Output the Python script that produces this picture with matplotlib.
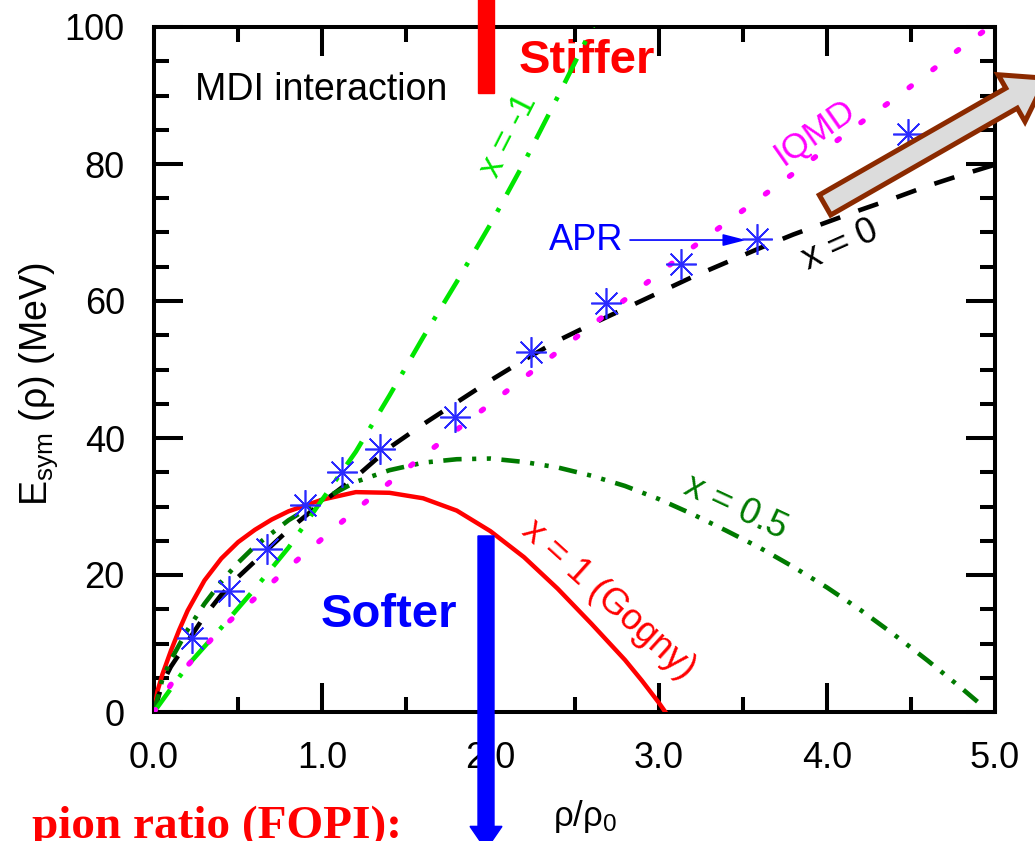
import matplotlib
matplotlib.use('Agg')
import matplotlib.pyplot as plt
from matplotlib.patches import Polygon, Rectangle, FancyArrow
from matplotlib.ticker import MultipleLocator, FormatStrFormatter
import numpy as np

plt.rcParams['font.family'] = ['Liberation Sans', 'DejaVu Sans']
plt.rcParams['mathtext.fontset'] = 'custom'
plt.rcParams['mathtext.rm'] = 'Liberation Sans'
plt.rcParams['mathtext.default'] = 'regular'

W, H = 1035, 841

# E_sym (MeV) vs rho/rho0
rho_x1 = [0, 0.02, 0.05, 0.1, 0.15, 0.2, 0.3, 0.4, 0.5, 0.6, 0.7, 0.8, 1.0,
          1.2, 1.4, 1.6, 1.8, 2.0, 2.2, 2.4, 2.6, 2.8, 2.9, 3.0, 3.04]
esym_x1 = [0, 3.0, 5.5, 8.9, 12.0, 14.8, 19.2, 22.4, 24.8, 26.6, 28.1, 29.3,
           31.0, 32.1, 32.0, 31.2, 29.4, 26.4, 22.6, 18.0, 12.9, 7.6, 4.6,
           1.4, 0]

rho_x0 = [0, 0.05, 0.1, 0.2, 0.3, 0.4, 0.5, 0.6, 0.8, 1.0, 1.2, 1.4, 1.6,
          1.8, 2.0, 2.2, 2.4, 2.6, 2.8, 3.0, 3.2, 3.4, 3.6, 3.8, 4.0, 4.2,
          4.4, 4.6, 4.8, 5.0]
esym_x0 = [0, 4.2, 6.6, 10.3, 14.0, 17.1, 19.7, 22.0, 26.6, 30.6, 34.3,
           38.6, 42.0, 45.2, 48.4, 51.4, 54.2, 56.6, 58.9, 61.2, 63.5, 65.6,
           67.7, 69.7, 71.5, 73.3, 75.0, 76.8, 78.4, 79.9]

rho_x05 = [0, 0.05, 0.1, 0.2, 0.3, 0.4, 0.5, 0.6, 0.8, 1.0, 1.2, 1.4, 1.6,
           1.8, 2.0, 2.2, 2.4, 2.6, 2.8, 3.0, 3.2, 3.4, 3.6, 3.8, 4.0, 4.2,
           4.4, 4.6, 4.8, 4.92]
esym_x05 = [0, 4.8, 7.6, 12.0, 15.8, 19.0, 21.8, 24.2, 28.0, 31.0, 33.6,
            35.3, 36.4, 36.9, 37.0, 36.5, 35.7, 34.5, 33.0, 31.1, 28.9,
            26.5, 24.0, 21.2, 18.2, 14.9, 11.3, 7.5, 3.5, 1.0]

rho_xm1 = [0, 0.2, 0.4, 0.6, 0.8, 1.0, 1.2, 1.4, 1.6, 1.8, 2.0, 2.2, 2.4,
           2.6, 2.62]
esym_xm1 = [0, 6.8, 12.3, 18.0, 24.0, 31.0, 38.0, 46.2, 54.7, 62.8, 71.2,
            80.2, 89.8, 99.6, 100.6]

rho_iqmd = [0, 0.1, 0.2, 0.4, 0.6, 0.8, 1.0, 1.2, 1.4, 1.6, 1.8, 2.0, 2.2,
            2.4, 2.6, 2.8, 3.0, 3.2, 3.4, 3.6, 3.8, 4.0, 4.2, 4.4, 4.6, 4.8,
            5.0]
esym_iqmd = [0, 4.0, 6.8, 12.2, 16.6, 21.1, 25.3, 29.5, 33.5, 37.4, 41.2,
             45.0, 48.8, 52.6, 56.4, 60.2, 64.0, 67.8, 71.4, 75.0, 78.6,
             82.3, 86.0, 89.5, 93.2, 97.0, 100.6]

rho_apr = [0.224, 0.448, 0.672, 0.896, 1.12, 1.344, 1.792, 2.24, 2.688,
           3.136, 3.584, 4.48]
esym_apr = [10.8, 17.6, 23.8, 30.2, 35.0, 38.4, 43.0, 52.6, 59.7, 65.4,
            69.1, 84.4]

xticks = [0, 1, 2, 3, 4, 5]
yticks = [0, 20, 40, 60, 80, 100]

fig = plt.figure(figsize=(W / 100, H / 100), dpi=100)
ax = fig.add_axes([154 / W, 1 - 712 / H, (995 - 154) / W, (712 - 27) / H])

ax.plot(rho_x1, esym_x1, color='#ff0000', lw=3.2, zorder=3)
ax.plot(rho_x0, esym_x0, color='black', lw=3.3, ls=(0, (4.6, 4.2)), zorder=3)
ax.plot(rho_x05, esym_x05, color='#007a00', lw=3.3,
        ls=(0, (4.0, 2.3, 0.9, 2.3, 0.9, 2.3)), zorder=3)
ax.plot(rho_xm1, esym_xm1, color='#00e600', lw=3.3,
        ls=(0, (6.0, 3.4, 0.9, 3.4)), zorder=3)
ax.plot(rho_iqmd, esym_iqmd, color='#ff00ff', lw=3.9,
        ls=(0, (0.5, 5.0)), dash_capstyle='round', zorder=3)
ax.plot(rho_apr, esym_apr, ls='none', marker=(8, 2, 0), ms=22, mew=1.2,
        color='#2a2aff', zorder=4)

ax.set_xlim(0, 5)
ax.set_ylim(0, 100)
ax.set_xticks(xticks)
ax.set_yticks(yticks)
ax.xaxis.set_major_formatter(FormatStrFormatter('%.1f'))
ax.xaxis.set_minor_locator(MultipleLocator(0.5))
ax.yaxis.set_minor_locator(MultipleLocator(5))
ax.tick_params(which='both', direction='in', top=True, right=True, width=2.9,
               labelsize=26, pad=21)
ax.tick_params(which='major', length=21)
ax.tick_params(which='minor', length=11)
for sp in ax.spines.values():
    sp.set_linewidth(2.9)

ax.set_xlabel(r'ρ/ρ$_0$', fontsize=25)
ax.xaxis.set_label_coords(0.5125, -0.125)
ax.set_ylabel(r'E$_{sym}$ (ρ) (MeV)', fontsize=27)
ax.yaxis.set_label_coords(-0.112, 0.479)

# labels
ax.text(0.244, 89.3, 'MDI interaction', fontsize=27, ha='left', va='baseline')
ax.text(2.167, 93.3, 'Stiffer', fontsize=34, weight='bold', color='#ff0000',
        ha='left', va='baseline', zorder=1)
ax.text(0.988, 12.4, 'Softer', fontsize=34, weight='bold', color='#0000ff',
        ha='left', va='baseline', zorder=1)
ax.text(2.345, 67.4, 'APR', fontsize=26, color='#0000ff', ha='left',
        va='baseline')
ax.annotate('', xy=(3.52, 68.9), xytext=(2.83, 68.9),
            arrowprops=dict(arrowstyle='-|>,head_length=0.7,head_width=0.18',
                            color='#0000ff', lw=1.2, mutation_scale=20,
                            shrinkA=0, shrinkB=0))
ax.text(3.93, 84.7, 'IQMD', fontsize=25, color='#ff00ff', rotation=35,
        rotation_mode='anchor', ha='center', va='center')
ax.text(4.083, 68.2, 'x = 0', fontsize=26, color='black', rotation=24,
        rotation_mode='anchor', ha='center', va='center')
ax.text(2.107, 84.2, 'x = -1', fontsize=25, color='#00e600', rotation=63,
        rotation_mode='anchor', ha='center', va='center')
ax.text(3.458, 29.8, 'x = 0.5', fontsize=26, color='#007a00', rotation=-25,
        rotation_mode='anchor', ha='center', va='center')
ax.text(2.70, 16.4, 'x = 1 (Gogny)', fontsize=26, color='#ff0000',
        rotation=-42, rotation_mode='anchor', ha='center', va='center')

# stiffer / softer markers
bar_x = (486 - 154) / 168.2
ax.add_patch(Rectangle((bar_x - 0.0475, 90.4), 0.095, 20, color='#ff0000',
                       clip_on=False, zorder=6))
ax.add_patch(FancyArrow(bar_x, 25.7, 0, -45.8, width=0.095, head_width=0.19,
                        head_length=3.4, length_includes_head=True,
                        color='#0000ff', clip_on=False, zorder=6))

# big brown arrow (figure pixels)
a = np.deg2rad(29.8)
u = np.array([np.cos(a), -np.sin(a)])
n = np.array([np.sin(a), np.cos(a)])
T = np.array([825.0, 205.0])
w, h, L, HL = 11.5, 27.0, 215.0, 40.0
pts = [T + n * w, T + n * w + u * L, T + n * h + u * L, T + u * (L + HL),
       T - n * h + u * L, T - n * w + u * L, T - n * w]
pts = [(p[0] / W, 1 - p[1] / H) for p in pts]
fig.add_artist(Polygon(pts, closed=True, transform=fig.transFigure,
                       facecolor='#dcdcdc', edgecolor='#8b2a00', lw=3.6,
                       joinstyle='miter', zorder=10))

fig.text(32 / W, 3.0 / H, 'pion ratio (FOPI):', fontsize=34, weight='bold',
         color='#ff0000', family=['Liberation Serif', 'DejaVu Serif'],
         ha='left', va='baseline')

fig.savefig('out.png', dpi=100)
